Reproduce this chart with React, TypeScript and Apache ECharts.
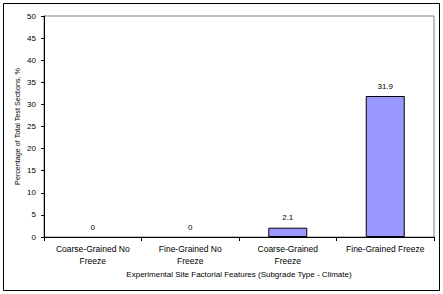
import React, { useEffect, useRef } from "react";
import * as echarts from "echarts";

const categories = [
  "Coarse-Grained No\nFreeze",
  "Fine-Grained No\nFreeze",
  "Coarse-Grained\nFreeze",
  "Fine-Grained Freeze",
];
const values = [0, 0, 2.1, 31.9];
const yTitle = "Percentage of Total Test Sections, %";
const xTitle = "Experimental Site Factorial Features (Subgrade Type - Climate)";

const FONT = "Liberation Sans";

export default function App() {
  const ref = useRef<HTMLDivElement>(null);
  useEffect(() => {
    if (!ref.current) return;
    const chart = echarts.init(ref.current, null, { renderer: "svg" });
    chart.setOption({
      animation: false,
      backgroundColor: "#ffffff",
      textStyle: { fontFamily: FONT, color: "#000" },
      grid: {
        left: 44,
        right: 9,
        top: 16,
        bottom: 57,
        show: true,
        borderColor: "#808080",
        borderWidth: 1,
        backgroundColor: "transparent",
      },
      graphic: [
        {
          type: "rect",
          shape: { x: 3.5, y: 3.5, width: 436, height: 287 },
          style: { fill: "none", stroke: "#000", lineWidth: 1 },
          silent: true,
        },
      ],
      xAxis: {
        type: "category",
        data: categories,
        name: xTitle,
        nameLocation: "middle",
        nameGap: 33,
        nameMoveOverlap: false,
        nameTextStyle: { fontSize: 8, fontFamily: FONT, color: "#000" },
        axisLine: { show: true, lineStyle: { color: "#000", width: 1 } },
        axisTick: { show: true, length: 4, lineStyle: { color: "#000" } },
        axisLabel: {
          fontSize: 8.5,
          lineHeight: 12,
          margin: 6,
          color: "#000",
          fontFamily: FONT,
          interval: 0,
        },
        splitLine: { show: false },
      },
      yAxis: {
        type: "value",
        min: 0,
        max: 50,
        interval: 5,
        name: yTitle,
        nameLocation: "middle",
        nameGap: 23,
        nameMoveOverlap: false,
        nameRotate: 90,
        nameTextStyle: { fontSize: 7.2, fontFamily: FONT, color: "#000" },
        axisLine: { show: true, lineStyle: { color: "#000", width: 1 } },
        axisTick: { show: true, length: 3, lineStyle: { color: "#000" } },
        axisLabel: { fontSize: 8, margin: 8, color: "#000", fontFamily: FONT },
        splitLine: { show: false },
      },
      series: [
        {
          type: "bar",
          data: values.map((v) => ({
            value: v,
            itemStyle: v === 0 ? { borderWidth: 0 } : undefined,
          })),
          barWidth: "40%",
          itemStyle: { color: "#9999FF", borderColor: "#000", borderWidth: 1 },
          label: {
            show: true,
            position: "top",
            distance: 6,
            fontSize: 8,
            color: "#000",
            fontFamily: FONT,
          },
        },
      ],
    });
    return () => chart.dispose();
  }, []);
  return (
    <div
      ref={ref}
      style={{ position: "fixed", left: 0, top: 0, width: 443, height: 294 }}
    />
  );
}
